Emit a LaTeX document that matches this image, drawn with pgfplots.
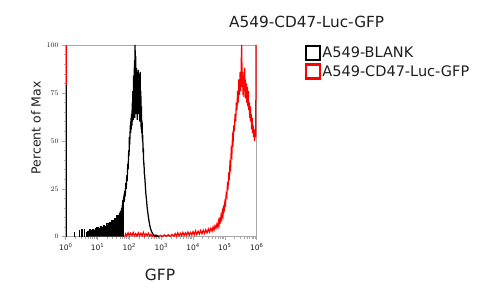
\documentclass[border=0pt]{standalone}
\usepackage{pgfplots}
\pgfplotsset{compat=1.18}
\usepackage{fontspec}
\setmainfont{DejaVu Sans}
\definecolor{framegray}{HTML}{A8A8A8}
\definecolor{txt}{HTML}{1E1E1E}
\begin{document}
\begin{tikzpicture}[x=1pt,y=1pt]
\path (0,0) rectangle (502,297);
\begin{axis}[
  at={(65.7pt,60.3pt)}, anchor=south west,
  scale only axis, width=191pt, height=191.7pt,
  xmin=0, xmax=6, ymin=0, ymax=100,
  clip=false,
  axis line style={framegray, line width=0.6pt},
  xtick={0,1,2,3,4,5,6},
  xticklabels={10\textsuperscript{0},10\textsuperscript{1},10\textsuperscript{2},10\textsuperscript{3},10\textsuperscript{4},10\textsuperscript{5},10\textsuperscript{6}},
  minor xtick={0.301,0.477,0.602,0.699,0.778,0.845,0.903,0.954,
    1.301,1.477,1.602,1.699,1.778,1.845,1.903,1.954,
    2.301,2.477,2.602,2.699,2.778,2.845,2.903,2.954,
    3.301,3.477,3.602,3.699,3.778,3.845,3.903,3.954,
    4.301,4.477,4.602,4.699,4.778,4.845,4.903,4.954,
    5.301,5.477,5.602,5.699,5.778,5.845,5.903,5.954},
  ytick={0,25,50,75,100},
  minor y tick num=4,
  xtick pos=left, ytick pos=left,
  tick align=outside,
  major tick length=3.5pt, minor tick length=2pt,
  tick style={framegray, line width=0.5pt},
  ticklabel style={font=\fontsize{7.5}{8}\selectfont, text=txt},
  legend cell align=left,
  legend image code/.code={\draw[#1, line width=2.2pt, fill=white] (0pt,-7pt) rectangle (14pt,7pt);},
  legend style={at={(1.253,1.0)}, anchor=north west, draw=none, fill=none,
    font=\fontsize{14.5}{16}\selectfont, text=txt, inner sep=0pt, row sep=2pt,
    nodes={inner sep=1pt}},
]
\addlegendimage{black}
\addlegendimage{red}
\legend{A549-BLANK,A549-CD47-Luc-GFP}

% red: left pile-up spike
\addplot[red, line width=1.4pt] coordinates {(0.02,0) (0.02,100)};
% red histogram
\addplot[red, line width=1.25pt] coordinates {
(1.86,0) (1.88,1.5) (1.92,0.5) (1.96,2) (2.00,0.5) (2.04,1.8) (2.08,0.6) (2.12,2.2)
(2.16,0.5) (2.20,1.6) (2.24,0.4) (2.28,2) (2.32,0.6) (2.36,1.8) (2.40,0.5) (2.44,2.2)
(2.48,0.4) (2.52,1.6) (2.56,0.6) (2.60,1.8) (2.64,0.3) (2.68,1.2) (2.72,0.2) (2.76,0.9)
(2.80,0.1) (2.86,0.8) (2.92,0.1) (2.98,0.7) (3.04,0.1) (3.10,0.9) (3.16,0.2) (3.22,1)
(3.28,0.2) (3.34,1.2) (3.40,0.3) (3.44,1.6) (3.48,0.4) (3.52,2) (3.56,0.5) (3.60,1.8)
(3.64,0.6) (3.68,2.2) (3.72,0.6) (3.76,2) (3.80,0.8) (3.84,2.4) (3.88,0.8) (3.92,2.2)
(3.96,1) (4.00,2.6) (4.04,1) (4.08,3) (4.12,1.2) (4.16,2.8) (4.20,1.4) (4.24,3.2)
(4.28,1.6) (4.32,3.4) (4.36,1.8) (4.40,3.6) (4.44,2) (4.48,4) (4.52,2.4) (4.56,4.4)
(4.60,3) (4.63,5) (4.66,3.6) (4.69,5.6) (4.72,4.4) (4.75,6.5) (4.78,5) (4.80,8)
(4.82,6.5) (4.84,9) (4.86,8) (4.88,11) (4.90,9.5) (4.92,13) (4.94,11) (4.96,15)
(4.98,14) (5.00,18) (5.02,17) (5.04,22) (5.06,21) (5.08,27) (5.10,26) (5.12,32)
(5.14,31) (5.16,38) (5.18,36) (5.20,45) (5.22,43) (5.24,52) (5.26,50) (5.28,58)
(5.30,55) (5.32,64) (5.34,60) (5.36,70) (5.38,66) (5.40,76) (5.42,70) (5.44,82)
(5.46,74) (5.48,86) (5.50,76) (5.52,95) (5.53,100) (5.54,78) (5.56,86) (5.57,74)
(5.59,84) (5.60,73) (5.62,88) (5.63,76) (5.65,82) (5.66,72) (5.68,80) (5.69,70)
(5.71,78) (5.72,68) (5.74,76) (5.75,66) (5.77,70) (5.78,62) (5.80,68) (5.81,60)
(5.83,64) (5.84,56) (5.86,62) (5.87,54) (5.89,58) (5.90,52) (5.92,56) (5.93,50)
(5.95,54) (5.97,52) (5.98,100)
};
% black: low-channel region (dense bins)
\addplot[black, fill=black, line width=0.4pt] coordinates {
(0.69,0) (0.69,3) (0.73,3) (0.73,3.8) (0.78,3.8) (0.78,3.2) (0.82,3.2) (0.82,4)
(0.87,4) (0.87,3.5) (0.92,3.5) (0.92,4.5) (0.97,4.5) (0.97,5) (1.02,5) (1.02,4.4)
(1.07,4.4) (1.07,5.5) (1.12,5.5) (1.12,5) (1.17,5) (1.17,6) (1.22,6) (1.22,5.4)
(1.27,5.4) (1.27,6.8) (1.32,6.8) (1.32,6.2) (1.36,6.2) (1.36,7.5) (1.40,7.5) (1.40,7)
(1.44,7) (1.44,8.5) (1.48,8.5) (1.48,8) (1.52,8) (1.52,9.5) (1.56,9.5) (1.56,9)
(1.60,9) (1.60,11) (1.64,11) (1.64,10) (1.67,10) (1.67,12.5) (1.70,12.5) (1.70,13.5)
(1.73,13.5) (1.73,15) (1.76,15) (1.76,16.5) (1.79,16.5) (1.79,19) (1.81,19) (1.81,0)
};
% black: sparse bins
\addplot[black, line width=1.3pt, ycomb] coordinates {
(0.28,2.6) (0.44,3.5) (0.51,4) (0.60,4) (0.67,2.6)
};
% black: left pile-up spike
\addplot[black, line width=1.4pt] coordinates {(0.02,0) (0.02,79)};
% black: main peak
\addplot[black, line width=1.25pt] coordinates {
(1.81,19) (1.83,21) (1.84,18) (1.86,24) (1.87,21) (1.89,28) (1.90,25) (1.92,32)
(1.93,29) (1.95,38) (1.96,35) (1.98,45) (1.99,42) (2.00,52) (2.01,48) (2.03,58)
(2.04,54) (2.05,62) (2.06,56) (2.07,64) (2.08,58) (2.09,70) (2.10,60) (2.11,76)
(2.12,61) (2.13,84) (2.14,63) (2.16,92) (2.17,62) (2.18,100) (2.19,66) (2.20,94)
(2.21,64) (2.22,88) (2.23,66) (2.24,82) (2.25,61) (2.26,86) (2.27,68) (2.28,87)
(2.29,64) (2.30,85) (2.31,66) (2.32,84) (2.33,60) (2.34,86) (2.35,62) (2.36,76)
(2.37,56) (2.38,68) (2.39,54) (2.40,60) (2.41,50) (2.42,53) (2.43,44) (2.44,46)
(2.45,38) (2.46,38) (2.47,33) (2.48,32) (2.50,27) (2.52,22) (2.54,19) (2.56,15)
(2.58,12.5) (2.60,10) (2.62,8) (2.64,6) (2.66,4.5) (2.68,3.5) (2.70,2.6) (2.72,2)
(2.74,1.4) (2.76,1) (2.78,0.6) (2.81,0.8) (2.84,0.2) (2.88,0.4) (2.92,0)
};
\end{axis}
\node[font=\fontsize{15.3}{17}\selectfont, text=txt] at (306.7,275) {A549-CD47-Luc-GFP};
\node[font=\fontsize{12.5}{14}\selectfont, text=txt, rotate=90] at (36,169) {Percent of Max};
\node[font=\fontsize{15.5}{17}\selectfont, text=txt] at (160,22) {GFP};
\end{tikzpicture}
\end{document}
